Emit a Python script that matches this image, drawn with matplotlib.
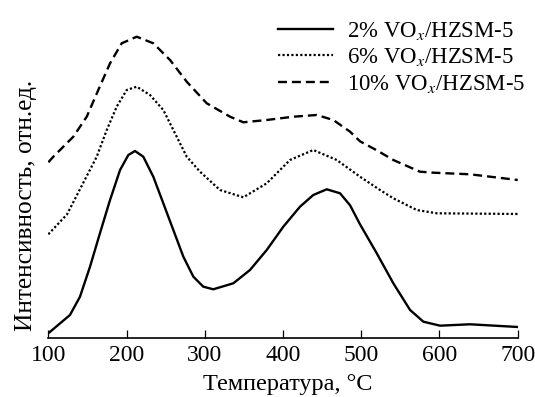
import matplotlib
matplotlib.use('Agg')
import matplotlib.pyplot as plt

# Температура, °C  /  интенсивность (отн. ед.), точки
t_2 = [100, 127.7, 140.5, 153.3, 166.1, 178.9, 191.7, 202.3, 210.8, 221.4, 234.2,
       247, 259.8, 272.6, 285.4, 298.1, 310.9, 336.5, 357.8, 379.2, 400.4, 421.7,
       438.7, 455.9, 472.9, 485.7, 498.4, 519.8, 541, 562.4, 579.4, 600.7, 639, 700]
i_2 = [5, 23.3, 41.6, 71.6, 105.3, 138.3, 168.3, 183.3, 187.3, 181.6, 161.6,
       135, 108.3, 81.6, 61.6, 51.6, 49, 55, 68.3, 88.3, 111.6, 131.6,
       143.3, 149, 145, 133, 114, 85, 55, 28.3, 16.6, 12.6, 14, 11.3]

t_6 = [100, 124, 146, 161.9, 174.7, 187.4, 200.2, 213, 230, 247, 259.8, 276.9,
       293.9, 319.4, 349.3, 379.2, 408.9, 438.7, 468.7, 498.4, 524, 541, 570.9,
       596.5, 700]
i_6 = [104, 124, 157.5, 181.6, 208.3, 231.6, 248.3, 251.6, 243.3, 228.3, 208.3, 181.6,
       166.6, 148.3, 141, 155, 178.3, 188.3, 178.3, 161.6, 148.3, 140, 128.3,
       125, 124.3]

t_10 = [100, 106.4, 132, 149.1, 163.9, 178.9, 193.8, 213, 234.2, 255.6, 276.9,
        302.5, 332.3, 349.3, 379.2, 413.2, 443.1, 464.3, 485.7, 498.4, 519.8,
        541, 575, 592.1, 639, 700]
i_10 = [176, 181.6, 201.6, 221.6, 248.3, 275, 295, 301.6, 295, 278.3, 256.6,
        235, 221.6, 216, 218.3, 221.6, 223.3, 218.3, 206.6, 197, 188,
        178.3, 166.6, 165.6, 164, 158.3]

labels = [r'2% VO$_x$/HZSM-5', r'6% VO$_x$/HZSM-5', r'10% VO$_x$/HZSM-5']
xticks = [100, 200, 300, 400, 500, 600, 700]

plt.rcParams['font.family'] = 'Liberation Serif'
plt.rcParams['mathtext.fontset'] = 'stix'

fig = plt.figure(figsize=(5.35, 3.97), dpi=100)
ax = fig.add_axes([0.0903, 0.1479, 0.8774, 0.8521])

ax.plot(t_2, i_2, color='black', lw=1.7, ls='-', label=labels[0])
ax.plot(t_6, i_6, color='black', lw=1.6, ls=(0, (1, 1)), label=labels[1])
ax.plot(t_10, i_10, color='black', lw=1.7, ls=(0, (3.8, 2.1)), label=labels[2])

ax.set_xlim(100, 700)
ax.set_ylim(0, 338.3)
for s in ['left', 'right', 'top']:
    ax.spines[s].set_visible(False)
ax.spines['bottom'].set_linewidth(1.2)
ax.set_yticks([])
ax.set_xticks(xticks)
ax.tick_params(axis='x', direction='in', length=6, width=0.9, labelsize=17, pad=5)

ax.set_xlabel('Температура, °C', fontsize=17.5, va='top')
ax.xaxis.set_label_coords(0.5107, -0.105)
ax.set_ylabel('Интенсивность, отн.ед.', fontsize=18.3, va='center')
ax.yaxis.set_label_coords(-0.048, 0.394)

ax.legend(loc='upper left', bbox_to_anchor=(278.3 / 535, 0.95), bbox_transform=fig.transFigure,
          frameon=False, fontsize=16.4, handlelength=2.4, handletextpad=0.6,
          labelspacing=0.2, borderpad=0, borderaxespad=0)

plt.savefig('out.png', dpi=100)
